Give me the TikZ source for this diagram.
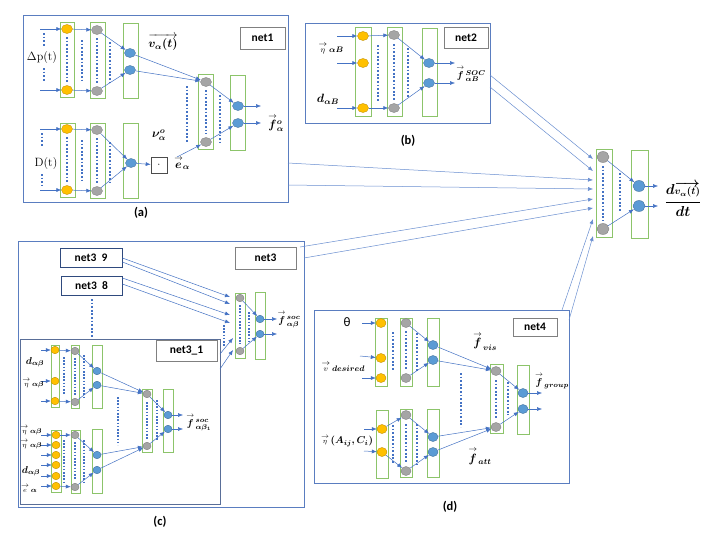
\documentclass[tikz,border=0pt]{standalone}
\usepackage{fontspec}
\usepackage{amsmath,amssymb,bm}
\usetikzlibrary{shapes.geometric,arrows.meta}
\newfontfamily\calib{Carlito}
\definecolor{ablue}{HTML}{4472C4}
\definecolor{bxblue}{HTML}{5A7DC0}
\definecolor{dkblue}{HTML}{2F4A7E}
\definecolor{lgreen}{HTML}{8CC46A}
\definecolor{yfill}{HTML}{FFC000}
\definecolor{ydraw}{HTML}{C09000}
\definecolor{gfill}{HTML}{A5A5A5}
\definecolor{gdraw}{HTML}{808080}
\definecolor{bfill}{HTML}{5B9BD5}
\definecolor{bdraw}{HTML}{41719C}
\newcommand{\vlab}[2]{$\overset{\rightarrow}{\scriptstyle #1}\,{\bm{\scriptstyle #2}}$}
\newcommand{\flab}[2]{$\overset{\rightarrow}{\bm f}{}^{\,\bm{#1}}_{\,\bm{#2}}$}
\begin{document}
\begin{tikzpicture}[x=1pt,y=-1pt,
  every node/.style={font=\fontsize{11}{13}\selectfont},
  lay/.style={draw=lgreen,line width=0.9pt,fill=white},
  yn/.style={ellipse,draw=ydraw,fill=yfill,line width=0.4pt,minimum width=11pt,minimum height=9pt,inner sep=0pt},
  gn/.style={ellipse,draw=gdraw,fill=gfill,line width=0.4pt,minimum width=11pt,minimum height=9pt,inner sep=0pt},
  bn/.style={ellipse,draw=bdraw,fill=bfill,line width=0.4pt,minimum width=11pt,minimum height=9pt,inner sep=0pt},
  sm/.style={minimum width=8pt,minimum height=7.5pt},
  arr/.style={draw=ablue,line width=0.5pt,-{Latex[length=5pt,width=4pt]}},
  con/.style={draw=ablue!80,line width=0.5pt,-{Latex[length=5pt,width=4pt]}},
  dots/.style={draw=ablue,line width=2.2pt,dash pattern=on 1.8pt off 1.8pt},
  sdots/.style={draw=ablue,line width=1.8pt,dash pattern=on 1.6pt off 1.6pt},
  netbox/.style={draw=bxblue,line width=0.9pt},
  lbl/.style={draw=gdraw,line width=0.8pt,fill=white,inner sep=0pt,font=\calib\bfseries\fontsize{11.5}{13}\selectfont},
  capt/.style={font=\calib\bfseries\fontsize{12.5}{14}\selectfont},
  ml/.style={font=\fontsize{10}{12}\selectfont,inner sep=1pt},
  bl/.style={font=\fontsize{12}{14}\selectfont,inner sep=1pt},
]
\useasboundingbox[fill=white] (0,0) rectangle (706,546);

%%%%%%%%%%%%%%%%%%%% NET1 %%%%%%%%%%%%%%%%%%%%
\draw[netbox] (23,15) rectangle (288,202);
\node[lbl,minimum width=45pt,minimum height=22pt] (l1) at (262.5,38) {net1};
% top
\draw[lay] (60,22) rectangle (74,97);
\draw[lay] (90,22) rectangle (105,98);
\draw[lay] (123,23) rectangle (138,98);
\draw[dots] (44,33)--(44,47); \draw[dots] (44,68)--(44,82);
\draw[dots] (67,37)--(67,83); \draw[dots] (82,40)--(82,82);
\draw[dots] (97,38)--(97,84); \draw[dots] (110,42)--(110,82);
\node[yn] (y11) at (67,29) {}; \node[yn] (y12) at (67,90) {};
\node[gn] (g11) at (97,30) {}; \node[gn] (g12) at (97,91) {};
\node[bn] (b11) at (130,53) {}; \node[bn] (b12) at (130,70) {};
\coordinate (i11) at (40,29); \coordinate (i12) at (40,90);
\draw[arr] (i11)--(y11); \draw[arr] (i12)--(y12);
\draw[arr] (y11)--(g11); \draw[arr] (y12)--(g12);
\draw[arr] (g11)--(b11); \draw[arr] (g12)--(b12);
\node[bl,fill=white] (tdp) at (42,57) {$\Delta\mathrm{p(t)}$};
% bottom
\draw[lay] (60,123) rectangle (75,197);
\draw[lay] (90,123) rectangle (105,198);
\draw[lay] (123,123) rectangle (138,198);
\draw[dots] (42,133)--(42,146); \draw[dots] (42,174)--(42,186);
\draw[dots] (67,137)--(67,183); \draw[dots] (82,140)--(82,182);
\draw[dots] (97,138)--(97,184); \draw[dots] (110,142)--(110,182);
\node[yn] (y13) at (67,129) {}; \node[yn] (y14) at (67,190) {};
\node[gn] (g13) at (97,130) {}; \node[gn] (g14) at (97,191) {};
\node[bn] (b13) at (131,163) {};
\coordinate (i13) at (40,129); \coordinate (i14) at (40,190);
\draw[arr] (i13)--(y13); \draw[arr] (i14)--(y14);
\draw[arr] (y13)--(g13); \draw[arr] (y14)--(g14);
\draw[arr] (g13)--(b13); \draw[arr] (g14)--(b13);
\node[bl,fill=white] (tdt) at (46,164) {D(t)};
\node[draw=black!70,line width=0.6pt,minimum width=16pt,minimum height=16pt,inner sep=0pt] (dotb) at (159,165) {$\cdot$};
\draw[arr] (b13)--(dotb);
\node[bl] (tnu) at (159,135) {$\bm{\nu^{o}_{\alpha}}$};
\node[bl] (tea) at (182,163) {$\overset{\rightarrow}{\bm e}{}_{\bm\alpha}$};
% combine
\draw[lay] (198,74) rectangle (213,149);
\draw[lay] (230,75) rectangle (245,150);
\draw[dots] (187,86)--(187,143); \draw[dots] (206,90)--(206,134); \draw[dots] (220,95)--(220,142);
\node[gn] (g21) at (206,82) {}; \node[gn] (g22) at (206,142) {};
\node[bn] (b21) at (238,106) {}; \node[bn] (b22) at (238,123) {};
\coordinate (ea) at (177,157);
\draw[arr] (ea)--(g22);
\draw[arr] (b11)--(g21); \draw[arr] (b12)--(g21);
\draw[arr] (g21)--(b21); \draw[arr] (g22)--(b22);
\coordinate (o11) at (261,106); \coordinate (o12) at (261,123);
\draw[arr] (b21)--(o11); \draw[arr] (b22)--(o12);
\node[bl] (tva) at (163,42) {$\overrightarrow{\bm{v_\alpha(t)}}$};
\node[bl] (tfo) at (276,123) {$\overset{\rightarrow}{\bm f}{}^{\bm o}_{\bm\alpha}$};
\node[capt] (ca) at (141,213) {(a)};

%%%%%%%%%%%%%%%%%%%% NET2 %%%%%%%%%%%%%%%%%%%%
\draw[netbox] (305,23) rectangle (490,123);
\node[lbl,minimum width=44pt,minimum height=21pt] (l2) at (466,37.5) {net2};
\draw[lay] (355,27) rectangle (371,116);
\draw[lay] (387,27) rectangle (402,116);
\draw[lay] (422,28) rectangle (437,116);
\draw[dots] (378,45)--(378,102); \draw[dots] (394,44)--(394,100); \draw[dots] (408,48)--(408,98);
\node[yn] (y21) at (363,36) {}; \node[yn] (y22) at (363,63) {}; \node[yn] (y23) at (363,108) {};
\node[gn] (g31) at (394,35) {}; \node[gn] (g32) at (394,108) {};
\node[bn] (b31) at (429,63) {}; \node[bn] (b32) at (429,83) {};
\coordinate (i21) at (337,36); \coordinate (i22) at (337,63); \coordinate (i23) at (337,108);
\draw[arr] (i21)--(y21); \draw[arr] (i22)--(y22); \draw[arr] (i23)--(y23);
\draw[arr] (y21)--(g31); \draw[arr] (y23)--(g32);
\draw[arr] (g31)--(b31); \draw[arr] (g32)--(b32);
\coordinate (o21) at (455,63); \coordinate (o22) at (455,83);
\draw[arr] (b31)--(o21); \draw[arr] (b32)--(o22);
\node[bl] (teta2) at (331,48) {\vlab{\eta}{\alpha B}};
\node[bl] (td2) at (328,99) {$\bm{d_{\alpha B}}$};
\node[ml] (tf2) at (471,74) {\flab{SOC}{\alpha B}};
\node[capt] (cb) at (408,141) {(b)};

%%%%%%%%%%%%%%%%%%%% NET3 %%%%%%%%%%%%%%%%%%%%
\draw[netbox] (18,241) rectangle (304,507);
\node[lbl,minimum width=61pt,minimum height=22pt] (l3) at (265.5,258) {net3};
\node[lbl,draw=dkblue,minimum width=62pt,minimum height=19pt] (n39) at (91,257.5) {net3\ \ 9};
\node[lbl,draw=dkblue,minimum width=61pt,minimum height=19pt] (n38) at (91.5,285.5) {net3\ \ 8};
\draw[dots] (92,299)--(92,337);
% aggregator
\draw[lay] (235,293) rectangle (245,358);
\draw[lay] (255,292) rectangle (265,359);
\draw[sdots] (224,325)--(224,346); \draw[sdots] (240,305)--(240,344); \draw[sdots] (249,312)--(249,342);
\node[gn,sm] (g41) at (240,298) {}; \node[gn,sm] (g42) at (240,351) {};
\node[bn,sm] (b41) at (260,319) {}; \node[bn,sm] (b42) at (260,334) {};
\draw[arr] (g41)--(b41); \draw[arr] (g42)--(b42);
\coordinate (o31) at (277,319); \coordinate (o32) at (277,334);
\draw[arr] (b41)--(o31); \draw[arr] (b42)--(o32);
\node[ml] (tf3) at (289,319) {\flab{soc}{\alpha\beta}};
\coordinate (a1) at (230,297); \coordinate (a2) at (230,304); \coordinate (a3) at (230,315);
\coordinate (a4) at (230,323); \coordinate (a5) at (233,338); \coordinate (a6) at (233,350);
\draw[arr] (n39.east|-0,258)--(a1); \draw[arr] (n39.east|-0,262)--(a2);
\draw[arr] (n38.east|-0,278)--(a3); \draw[arr] (n38.east|-0,284)--(a4);
% net3_1
\draw[netbox,draw=dkblue!80] (20,339) rectangle (220,504);
\coordinate (n31a) at (220,354); \coordinate (n31b) at (220,369);
\draw[arr] (n31a)--(a5); \draw[arr] (n31b)--(a6);
\node[lbl,minimum width=61pt,minimum height=21pt] (l31) at (186.5,350.5) {net3\_1};
% inner top
\draw[lay] (51,345) rectangle (59,407);
\draw[lay] (71,345) rectangle (79,408);
\draw[lay] (92,345) rectangle (102,408);
\draw[sdots] (64,357)--(64,395); \draw[sdots] (75,358)--(75,395); \draw[sdots] (84,355)--(84,397);
\node[yn,sm] (y31) at (55,350) {}; \node[yn,sm] (y32) at (55,381) {}; \node[yn,sm] (y33) at (55,401) {};
\node[gn,sm] (g51) at (75,351) {}; \node[gn,sm] (g52) at (75,402) {};
\node[bn,sm] (b51) at (97,371) {}; \node[bn,sm] (b52) at (97,385) {};
\coordinate (i31) at (41,350); \coordinate (i32) at (41,381); \coordinate (i33) at (41,401);
\draw[arr] (i31)--(y31); \draw[arr] (i32)--(y32); \draw[arr] (i33)--(y33);
\draw[arr] (y31)--(g51); \draw[arr] (y33)--(g52);
\draw[arr] (g51)--(b51); \draw[arr] (g52)--(b52);
\node[ml] (td31) at (35,362) {$\bm{d_{\alpha\beta}}$};
\node[ml] (te31) at (33,383) {\vlab{\eta}{\alpha\beta}};
% inner bottom
\draw[lay] (51,430) rectangle (61,492);
\draw[lay] (71,430) rectangle (80,493);
\draw[lay] (92,429) rectangle (102,493);
\draw[sdots] (64,440)--(64,482); \draw[sdots] (75,442)--(75,480); \draw[sdots] (84,440)--(84,482);
\foreach \k/\yy in {1/435,2/445,3/455,4/465,5/476,6/486}{
  \node[yn,sm] (y4\k) at (56,\yy) {};
  \coordinate (i4\k) at (41,\yy);
  \draw[arr] (i4\k)--(y4\k);
}
\node[gn,sm] (g53) at (75,435) {}; \node[gn,sm] (g54) at (75,487) {};
\node[bn,sm] (b53) at (97,455) {}; \node[bn,sm] (b54) at (97,470) {};
\draw[arr] (y41)--(g53); \draw[arr] (y46)--(g54);
\draw[arr] (g53)--(b53); \draw[arr] (g54)--(b54);
\node[ml] (te41) at (31,430) {\vlab{\eta}{\alpha\beta}};
\node[ml] (te42) at (31,444) {\vlab{\eta}{\alpha\beta}};
\node[ml] (td41) at (31,471) {$\bm{d_{\alpha\beta}}$};
\node[ml] (te43) at (29,488) {\vlab{e}{\alpha}};
% inner combine
\draw[lay] (142,389) rectangle (152,452);
\draw[lay] (163,389) rectangle (173,452);
\draw[sdots] (118,397)--(118,445); \draw[sdots] (147,402)--(147,440); \draw[sdots] (157,400)--(157,440);
\node[gn,sm] (g55) at (147,394) {}; \node[gn,sm] (g56) at (147,446) {};
\node[bn,sm] (b55) at (168,415) {}; \node[bn,sm] (b56) at (168,429) {};
\draw[arr] (b51)--(g55); \draw[arr] (b52)--(g55);
\draw[arr] (b53)--(g56); \draw[arr] (b54)--(g56);
\draw[arr] (g55)--(b55); \draw[arr] (g56)--(b56);
\coordinate (o41) at (183,415); \coordinate (o42) at (183,429);
\draw[arr] (b55)--(o41); \draw[arr] (b56)--(o42);
\node[ml] (tf31) at (199,422) {\flab{soc}{\alpha\beta_1}};
\node[capt] (cc) at (160,522) {(c)};

%%%%%%%%%%%%%%%%%%%% NET4 %%%%%%%%%%%%%%%%%%%%
\draw[netbox] (314,310) rectangle (569,483);
\node[lbl,minimum width=44pt,minimum height=18pt] (l4) at (535,327) {net4};
% top
\draw[lay] (375,318) rectangle (387,386);
\draw[lay] (400,318) rectangle (412,386);
\draw[lay] (427,318) rectangle (439,386);
\draw[dots] (393,332)--(393,370); \draw[dots] (406,331)--(406,370); \draw[dots] (417,333)--(417,372);
\node[yn,minimum width=10pt] (y51) at (381,323) {}; \node[yn,minimum width=10pt] (y52) at (381,358) {}; \node[yn,minimum width=10pt] (y53) at (381,378) {};
\node[gn,minimum width=10pt] (g61) at (406,323) {}; \node[gn,minimum width=10pt] (g62) at (406,378) {};
\node[bn,minimum width=10pt] (b61) at (433,345) {}; \node[bn,minimum width=10pt] (b62) at (433,360) {};
\coordinate (i51) at (362,323); \coordinate (i52) at (360,356); \coordinate (i53) at (362,378);
\draw[arr] (i51)--(y51); \draw[arr] (i52)--(y52); \draw[arr] (i53)--(y53);
\draw[arr] (g61)--(b61); \draw[arr] (g62)--(b62);
\node[font=\calib\fontsize{13}{15}\selectfont] (tth) at (347,322) {θ};
\node[bl] (tvd) at (343,366) {\vlab{v}{desired}};
% bottom
\draw[lay] (376,410) rectangle (388,478);
\draw[lay] (400,409) rectangle (412,477);
\draw[lay] (427,409) rectangle (439,477);
\draw[dots] (393,425)--(393,463); \draw[dots] (406,424)--(406,462); \draw[dots] (417,424)--(417,466);
\node[yn,minimum width=10pt] (y54) at (382,429) {}; \node[yn,minimum width=10pt] (y55) at (382,452) {};
\node[gn,minimum width=10pt] (g63) at (406,415) {}; \node[gn,minimum width=10pt] (g64) at (406,471) {};
\node[bn,minimum width=10pt] (b63) at (433,437) {}; \node[bn,minimum width=10pt] (b64) at (433,452) {};
\coordinate (i54) at (364,429); \coordinate (i55) at (364,451);
\draw[arr] (i54)--(y54); \draw[arr] (i55)--(y55);
\draw[arr] (y54)--(g63); \draw[arr] (y55)--(g64);
\draw[arr] (g63)--(b63); \draw[arr] (g64)--(b64);
\node[ml] (tac) at (347,441) {$\overset{\rightarrow}{\scriptstyle\eta}\,\bm{(A_{ij},C_i)}$};
% combine
\draw[lay] (490,364) rectangle (503,433);
\draw[lay] (517,365) rectangle (529,434);
\draw[dots] (461,373)--(461,427); \draw[dots] (496,380)--(496,418); \draw[dots] (508,382)--(508,415);
\node[gn,minimum width=10pt] (g65) at (496,371) {}; \node[gn,minimum width=10pt] (g66) at (496,427) {};
\node[bn,minimum width=10pt] (b65) at (523,393) {}; \node[bn,minimum width=10pt] (b66) at (523,409) {};
\draw[arr] (b61)--(g65); \draw[arr] (b62)--(g65);
\draw[arr] (b63)--(g66); \draw[arr] (b64)--(g66);
\draw[arr] (g65)--(b65); \draw[arr] (g66)--(b66);
\coordinate (o51) at (542,393); \coordinate (o52) at (542,409);
\draw[arr] (b65)--(o51); \draw[arr] (b66)--(o52);
\node[bl] (tfv) at (485,341) {\flab{}{vis}};
\node[bl] (tfa) at (480,456) {\flab{}{att}};
\node[ml] (tfg) at (552,381) {\flab{}{group}};
\node[capt] (cd) at (450,507) {(d)};

%%%%%%%%%%%%%%%%%%%% FINAL %%%%%%%%%%%%%%%%%%%%
\draw[lay] (596,149) rectangle (612,237);
\draw[lay] (631,150) rectangle (648,238);
\draw[dots] (603,166)--(603,221); \draw[dots] (620,173)--(620,212);
\node[gn,minimum width=12pt,minimum height=11pt] (g71) at (603,157) {};
\node[gn,minimum width=12pt,minimum height=11pt] (g72) at (603,229) {};
\node[bn,minimum width=12pt,minimum height=11pt] (b71) at (639,186) {};
\node[bn,minimum width=12pt,minimum height=11pt] (b72) at (639,206) {};
\draw[arr] (g71)--(b71); \draw[arr] (g72)--(b72);
\coordinate (o71) at (658,186); \coordinate (o72) at (658,206);
\draw[arr] (b71)--(o71); \draw[arr] (b72)--(o72);
\node[font=\fontsize{14}{16}\selectfont,inner sep=0pt] (tdv) at (683,199) {$\bm{\dfrac{d\overrightarrow{\scriptstyle v_\alpha(t)}}{dt}}$};
% connectors into final
\coordinate (f1) at (593,159); \coordinate (f2) at (593,171);
\coordinate (f3) at (593,180); \coordinate (f4) at (593,189);
\coordinate (f5) at (593,199); \coordinate (f6) at (593,208);
\coordinate (f7) at (593,219); \coordinate (f8) at (593,236);
\coordinate (s1) at (490,75); \coordinate (s2) at (490,87);
\coordinate (s3) at (288,163); \coordinate (s4) at (288,185);
\coordinate (s5) at (300,247); \coordinate (s6) at (304,258);
\coordinate (s7) at (562,310); \coordinate (s8) at (569,320);
\draw[con] (s1)--(f1); \draw[con] (s2)--(f2);
\draw[con] (s3)--(f3); \draw[con] (s4)--(f4);
\draw[con] (s5)--(f5); \draw[con] (s6)--(f6);
\draw[con] (s7)--(f7); \draw[con] (s8)--(f8);
\end{tikzpicture}
\end{document}
